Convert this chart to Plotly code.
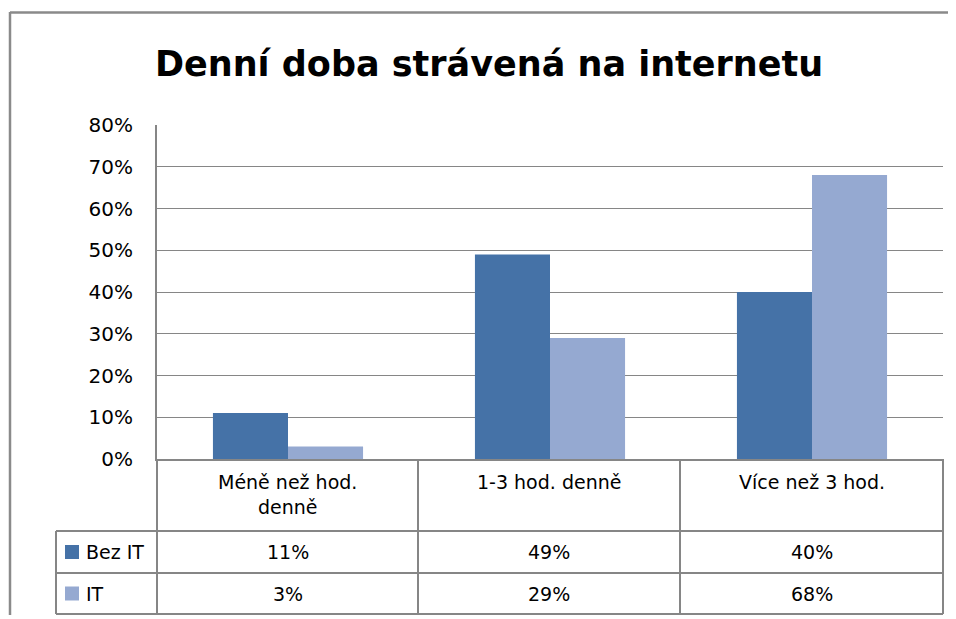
import plotly.graph_objects as go

# Page body has an 8px margin; figure is positioned inside the 956x619 window.
OFF = 8
W, H = 956 - 2 * OFF, 607

title = "Denní doba strávená na internetu"
categories = ["Méně než hod. denně", "1-3 hod. denně", "Více než 3 hod."]
category_labels = ["Méně než hod.<br>denně", "1-3 hod. denně", "Více než 3 hod."]
series_names = ["Bez IT", "IT"]
bez_it = [0.11, 0.49, 0.40]
it = [0.03, 0.29, 0.68]
y_ticks = [0, 0.1, 0.2, 0.3, 0.4, 0.5, 0.6, 0.7, 0.8]

colors = ["#4572A7", "#95A9D1"]
grid = "#868686"
FONT = "DejaVu Sans"


def px(x):
    return (x - OFF) / W


def py(y):
    return 1 - (y - OFF) / H


# plot area in window pixels
L, R, T, B = 157, 943, 125, 459
col_edges = [157, 418, 680, 943]
row_edges = [459, 531, 573, 614]
table_left = 56

fig = go.Figure()
for name, vals, c in zip(series_names, [bez_it, it], colors):
    fig.add_trace(go.Bar(x=categories, y=vals, name=name, marker=dict(color=c, line=dict(width=0)),
                         showlegend=False))

shapes = []
# outer chart frame
shapes.append(dict(type="line", xref="paper", yref="paper", x0=px(10), x1=px(960), y0=py(12.5), y1=py(12.5),
                   line=dict(color="#8a8a8a", width=2.5)))
shapes.append(dict(type="line", xref="paper", yref="paper", x0=px(10), x1=px(10), y0=py(12), y1=py(625),
                   line=dict(color="#8a8a8a", width=2.5)))
# table grid
for xe in col_edges:
    shapes.append(dict(type="line", xref="paper", yref="paper", x0=px(xe), x1=px(xe), y0=py(row_edges[0]),
                       y1=py(row_edges[-1]), line=dict(color=grid, width=2)))
shapes.append(dict(type="line", xref="paper", yref="paper", x0=px(table_left), x1=px(table_left),
                   y0=py(row_edges[1]), y1=py(row_edges[-1]), line=dict(color=grid, width=2)))
for ye in row_edges[1:]:
    shapes.append(dict(type="line", xref="paper", yref="paper", x0=px(table_left), x1=px(col_edges[-1]),
                       y0=py(ye), y1=py(ye), line=dict(color=grid, width=2)))

annotations = []
annotations.append(dict(text=f"<b>{title}</b>", xref="paper", yref="paper", x=px(489), y=py(64),
                        xanchor="center", yanchor="middle", showarrow=False,
                        font=dict(family=FONT, size=35, color="black")))
# header labels
for i, lab in enumerate(category_labels):
    cx = (col_edges[i] + col_edges[i + 1]) / 2
    annotations.append(dict(text=lab, xref="paper", yref="paper", x=px(cx), y=py(469), xanchor="center",
                            yanchor="top", showarrow=False, align="center",
                            font=dict(family=FONT, size=19, color="black")))
# rows
for r, (name, vals, c) in enumerate(zip(series_names, [bez_it, it], colors)):
    cy = (row_edges[r + 1] + row_edges[r + 2]) / 2
    shapes.append(dict(type="rect", xref="paper", yref="paper", x0=px(65), x1=px(79), y0=py(cy - 7),
                       y1=py(cy + 7), fillcolor=c, line=dict(width=0)))
    annotations.append(dict(text=name, xref="paper", yref="paper", x=px(84), y=py(cy), xanchor="left",
                            yanchor="middle", showarrow=False, font=dict(family=FONT, size=19, color="black")))
    for i, v in enumerate(vals):
        cx = (col_edges[i] + col_edges[i + 1]) / 2
        annotations.append(dict(text=f"{round(v * 100)}%", xref="paper", yref="paper", x=px(cx), y=py(cy),
                                xanchor="center", yanchor="middle", showarrow=False,
                                font=dict(family=FONT, size=19, color="black")))

fig.update_layout(
    width=W, height=H,
    margin=dict(l=0, r=0, t=0, b=0, pad=0, autoexpand=False),
    paper_bgcolor="white", plot_bgcolor="white",
    barmode="group", bargap=0.427, bargroupgap=0,
    shapes=shapes, annotations=annotations,
    xaxis=dict(domain=[px(L), px(R)], showticklabels=False, ticks="", showgrid=False, automargin=False,
               showline=True, linecolor=grid, linewidth=2, range=[-0.5, 2.5], fixedrange=True),
    yaxis=dict(domain=[py(B), py(T)], range=[0, 0.8], tickvals=y_ticks, tickformat=".0%",
               showgrid=True, gridcolor=grid, gridwidth=1, zeroline=False, automargin=False,
               showline=True, linecolor=grid, linewidth=2, ticks="", ticklabelstandoff=18,
               tickfont=dict(family=FONT, size=20, color="black")),
)

fig.write_html("out.html")
